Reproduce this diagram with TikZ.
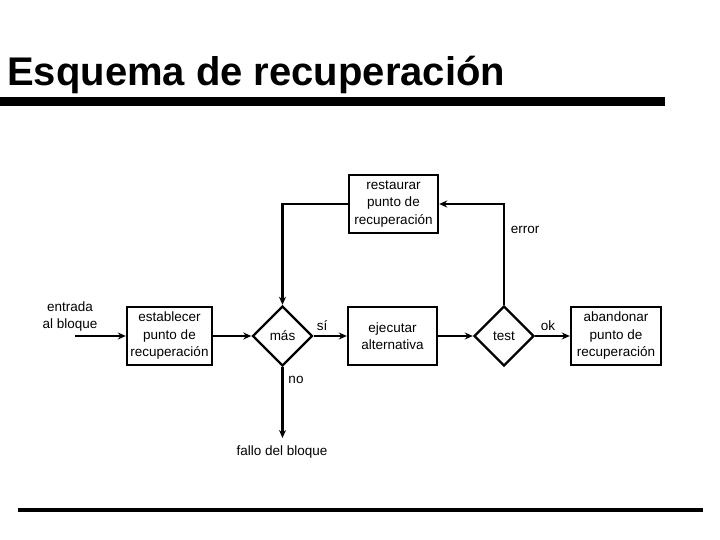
\documentclass[tikz,border=0pt]{standalone}
\usepackage{fontspec}
\setmainfont{Liberation Sans}
\usetikzlibrary{shapes.geometric,arrows.meta}
\begin{document}
\begin{tikzpicture}[x=1bp,y=-1bp,
  every node/.style={font=\fontsize{13.5bp}{17.5bp}\selectfont, align=center},
  box/.style={draw, line width=2.4bp, minimum width=89bp, minimum height=58bp, inner sep=1bp},
  dec/.style={draw, diamond, line width=2.4bp, minimum width=60bp, minimum height=60bp, inner sep=0pt},
  conn/.style={line width=2.4bp},
  arr/.style={conn, -{Stealth[length=8bp,width=7bp]}},
  lbl/.style={inner sep=0pt}]
\useasboundingbox (0,0) rectangle (720,540);
% title and rules
\node[anchor=base west, inner sep=0pt, font=\fontsize{40bp}{48bp}\selectfont\bfseries] (title) at (7,86) {Esquema de recuperación};
\fill (0,97) rectangle (665,106);
\fill (18,508) rectangle (703,512);
% nodes
\node[lbl] (entrada) at (70,316.5) {entrada\\al bloque};
\coordinate (in) at (75,336);
\node[box, minimum width=85bp] (est) at (169.5,336) {establecer\\punto de\\recuperación};
\node[dec] (mas) at (282.5,336) {más};
\node[box] (eje) at (392.5,336) {ejecutar\\alternativa};
\node[dec] (test) at (504,336) {test};
\node[box, minimum width=90bp] (aba) at (616,336) {abandonar\\punto de\\recuperación};
\node[box] (res) at (393.5,204) {restaurar\\punto de\\recuperación};
\coordinate (out) at (282.5,438);
\node[lbl] (fallo) at (282,452) {fallo del bloque};
% labels
\node[lbl] (si) at (322,326) {sí};
\node[lbl] (ok) at (548,326) {ok};
\node[lbl] (error) at (525,230) {error};
\node[lbl] (no) at (296,380) {no};
% connectors
\draw[arr] (in) -- (est);
\draw[arr] (est) -- (mas);
\draw[arr] (mas) -- (eje);
\draw[arr] (eje) -- (test);
\draw[arr] (test) -- (aba);
\draw[arr] (test.north) |- (res.east);
\draw[arr] (res.west) -| (mas.north);
\draw[arr] (mas.south) -- (out);
\end{tikzpicture}
\end{document}
